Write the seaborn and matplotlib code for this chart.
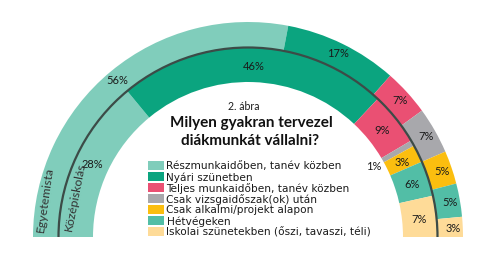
import matplotlib
matplotlib.use("Agg")
import matplotlib.pyplot as plt
import seaborn as sns
import numpy as np
from matplotlib.patches import Arc, Rectangle

categories = ["Részmunkaidőben, tanév közben", "Nyári szünetben",
              "Teljes munkaidőben, tanév közben", "Csak vizsgaidőszak(ok) után",
              "Csak alkalmi/projekt alapon", "Hétvégeken",
              "Iskolai szünetekben (őszi, tavaszi, téli)"]
egyetemista = [56, 17, 7, 7, 5, 5, 3]
kozepiskolas = [28, 46, 9, 1, 3, 6, 7]
ring_names = ["Egyetemista", "Középiskolás"]
fig_label = "2. ábra"
title_lines = ["Milyen gyakran tervezel", "diákmunkát vállalni?"]
colors = ["#80cdbb", "#0ba47f", "#ea5073", "#a8a8ac", "#fbbe0f", "#52bea6", "#fedb98"]

sns.set_theme(style="white")
plt.rcParams['font.family'] = ['Lato', 'DejaVu Sans']

fig = plt.figure(figsize=(4.91, 2.55), dpi=100)
ax = fig.add_axes([0, 0, 1, 1])
cx, cy = 248, 17
R_out, R_mid, R_in = 215, 189.5, 155


def ring(values, radius, width):
    vals = list(values) + [sum(values)]
    cols = list(colors) + ["white"]
    wedges, _ = ax.pie(vals, colors=cols, radius=radius, center=(cx, cy),
                       startangle=180, counterclock=False, frame=True,
                       wedgeprops=dict(width=width, linewidth=0))
    wedges[-1].set_visible(False)
    return wedges[:-1]


w_out = ring(egyetemista, R_out, R_out - R_mid)
w_in = ring(kozepiskolas, R_mid, R_mid - R_in)

ax.add_patch(Arc((cx, cy), 2 * R_mid, 2 * R_mid, theta1=0, theta2=180,
                 lw=1.6, color="#3c4b47", zorder=5))


def label(wedges, values, r):
    for w, v in zip(wedges, values):
        th = np.deg2rad((w.theta1 + w.theta2) / 2)
        rr = r if v >= 2 else R_in - 10
        ax.text(cx + rr * np.cos(th), cy + rr * np.sin(th), f"{v}%",
                ha="center", va="center", fontsize=8, color="#1a1a1a", zorder=6)


label(w_out, egyetemista, 205)
label(w_in, kozepiskolas, 172)

ax.text(45, 55, ring_names[0], rotation=82, ha="center", va="center",
        fontsize=8.8, color="#333333", zorder=6)
ax.text(75, 58, ring_names[1], rotation=79, ha="center", va="center",
        fontsize=8.8, color="#333333", zorder=6)

ax.text(244, 149, fig_label, ha="center", va="center", fontsize=7.6, color="#1a1a1a")
ax.text(251, 132, title_lines[0], ha="center", va="center", fontsize=11,
        fontweight="bold", color="#111111")
ax.text(250, 114, title_lines[1], ha="center", va="center", fontsize=11,
        fontweight="bold", color="#111111")

for i, (cat, col) in enumerate(zip(categories, colors)):
    yc = 255 - (166.5 + 11 * i)
    ax.add_patch(Rectangle((148, yc - 4.75), 16, 9.5, color=col, lw=0))
    ax.text(166.5, yc, cat, ha="left", va="center", fontsize=7.6,
            color="#1a1a1a", family=["DejaVu Sans"])

ax.set_xlim(0, 491)
ax.set_ylim(0, 255)
ax.set_aspect("equal")
ax.axis("off")
fig.savefig("out.png", dpi=100)
